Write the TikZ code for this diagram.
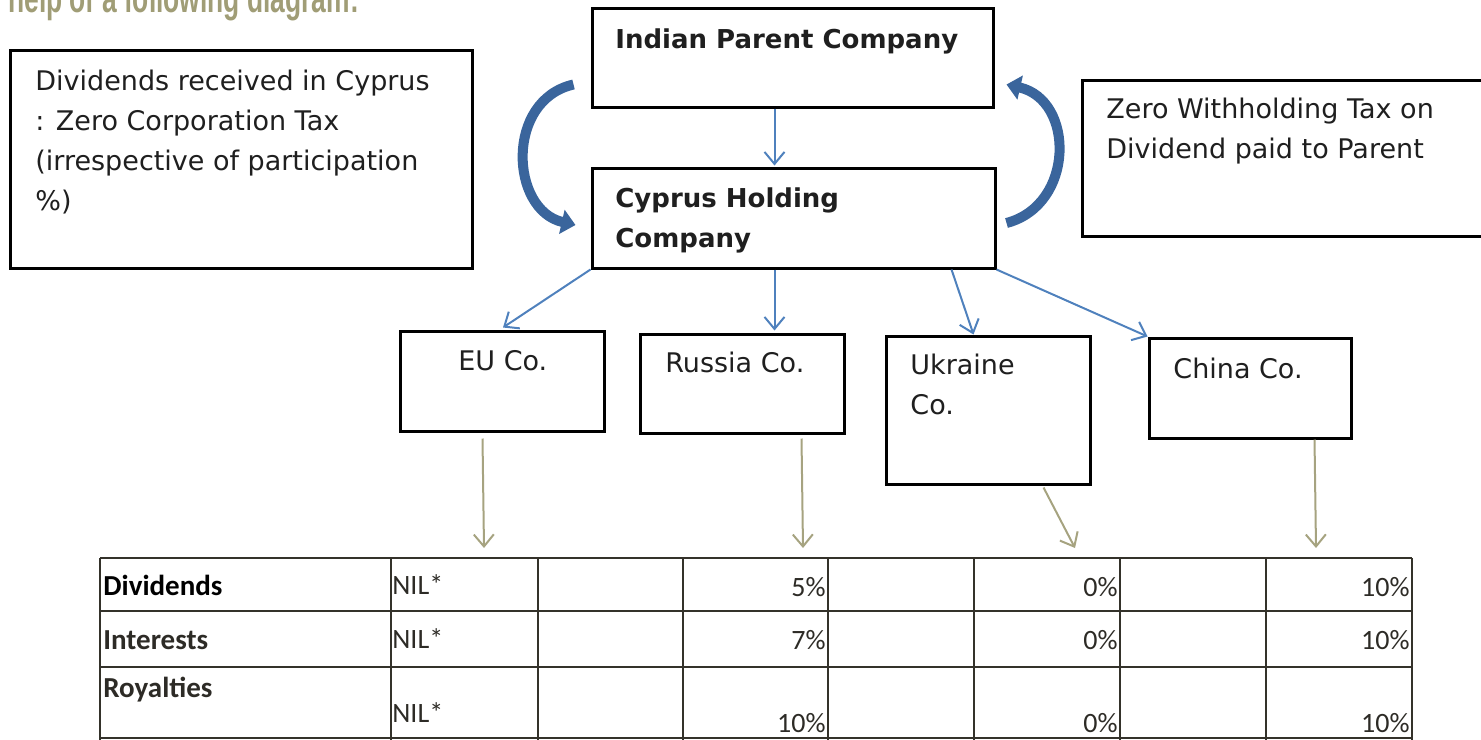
\documentclass[tikz,border=0pt]{standalone}
\usepackage{fontspec}
\setmainfont{DejaVu Sans}
\newfontfamily\tabfont{Carlito}
\newfontfamily\headfont{Liberation Sans}
\usetikzlibrary{arrows.meta}
\usetikzlibrary{fit}
\usetikzlibrary{calc}

\definecolor{linkblue}{RGB}{79,129,189}
\definecolor{curveblue}{RGB}{58,101,156}
\definecolor{feedolive}{RGB}{166,163,128}
\definecolor{headolive}{RGB}{160,157,118}
\definecolor{gridline}{RGB}{52,50,42}
\definecolor{tabtext}{RGB}{45,43,38}

\tikzset{
  box/.style={draw=black, line width=1.5pt, inner sep=0pt},
  plaintxt/.style={anchor=base west, inner sep=0pt, text=black!88, font=\fontsize{13.5}{20}\selectfont},
  boldtxt/.style={plaintxt, font=\fontsize{13}{20}\selectfont\bfseries},
  link/.style={draw=linkblue, line width=1pt, -{Straight Barb[length=6pt,width=10pt]}},
  feed/.style={draw=feedolive, line width=1pt, -{Straight Barb[length=6pt,width=10pt]}},
  swing/.style={draw=curveblue, line width=5pt, -{Triangle[length=7pt,width=12pt]}},
  gridrule/.style={draw=gridline, line width=1.25pt},
  rowhead/.style={anchor=base west, inner sep=0pt, text=tabtext, font=\tabfont\fontsize{14.5}{16}\selectfont\bfseries},
  cellval/.style={anchor=base east, inner sep=0pt, text=tabtext, font=\tabfont\fontsize{14}{16}\selectfont},
  nilval/.style={cellval, anchor=base west}
}

\begin{document}
\begin{tikzpicture}[x=0.5pt,y=-0.5pt]
    \useasboundingbox (0,0) rectangle (1481,739);

    \node[anchor=base west, inner sep=0pt, text=headolive, xscale=0.66, transform shape,
          font=\headfont\fontsize{20}{22}\selectfont\bfseries] (head) at (8,12) {help of a following diagram:};

    \node[box, fit={(592,8) (993,107)}] (parent) {};
    \node[box, fit={(592,168) (995,268)}] (holding) {};
    \node[box, fit={(10,50) (472,268)}] (cyprusnote) {};
    \node[box, fit={(1082,80) (1495,236)}] (whtnote) {};
    \node[box, fit={(400,331) (604,431)}] (eu) {};
    \node[box, fit={(640,334) (844,433)}] (russia) {};
    \node[box, fit={(886,336) (1090,484)}] (ukraine) {};
    \node[box, fit={(1149,338) (1351,438)}] (china) {};

    % multi-line texts sit on the baseline of their last line
    \node[boldtxt] (parenttxt) at (615,48) {Indian Parent Company};
    \node[boldtxt, align=left] (holdingtxt) at (615,247) {Cyprus Holding\\Company};
    \node[plaintxt, align=left] (cyprustxt) at (35,210) {Dividends received in Cyprus\\: Zero Corporation Tax\\(irrespective of participation\\\%)};
    \node[plaintxt, align=left] (whttxt) at (1106,158) {Zero Withholding Tax on\\Dividend paid to Parent};
    \node[plaintxt] (eutxt) at (458,370) {EU Co.};
    \node[plaintxt] (russiatxt) at (665,372) {Russia Co.};
    \node[plaintxt, align=left] (ukrainetxt) at (910,414) {Ukraine\\Co.};
    \node[plaintxt] (chinatxt) at (1173,378) {China Co.};

    \draw[swing] ($(parent.south west)+(-17,-24)$) .. controls (505,100) and (510,210) .. ($(holding.west)+(-15,7)$);
    \draw[swing] ($(holding.east)+(10,5)$) .. controls (1075,205) and (1075,100) .. ($(parent.south east)+(12,-24)$);

    \draw[link] ($(parent.south west)+(184,0)$) -- ($(holding.north west)+(184,-1)$);
    \draw[link] (holding.south west) -- ($(eu.north)+(1,-2)$);
    \draw[link] ($(holding.south west)+(184,0)$) -- ($(russia.north west)+(136,-2)$);
    \draw[link] ($(holding.south west)+(361,0)$) -- ($(ukraine.north west)+(89,0)$);
    \draw[link] (holding.south east) -- (china.north west);

    \coordinate (eutab) at (484,548);
    \coordinate (russiatab) at (803,548);
    \coordinate (ukrainetab) at (1075,548);
    \coordinate (chinatab) at (1316,548);
    \draw[feed] ($(eu.south west)+(84,6)$) -- (eutab);
    \draw[feed] ($(russia.south west)+(163,4)$) -- (russiatab);
    \draw[feed] ($(ukraine.south west)+(159,2)$) -- (ukrainetab);
    \draw[feed] ($(china.south west)+(167,0)$) -- (chinatab);

    \foreach \y in {558,611,667,738}
        \draw[gridrule] (100,\y) -- (1412,\y);
    \foreach \x in {100,391,538,683,828,974,1120,1266,1412}
        \draw[gridrule] (\x,558) -- (\x,745);

    \node[rowhead, text=black] (divhead) at (103,595) {Dividends};
    \node[rowhead] (inthead) at (103,649) {Interests};
    \node[rowhead] (royhead) at (103,697) {Royalties};
    \node[nilval] (divnil) at (392,594) {NIL*};
    \node[nilval] (intnil) at (392,648) {NIL*};
    \node[nilval] (roynil) at (392,722) {NIL*};

    \foreach \x/\v [count=\i] in {826/5\%,1118/0\%,1410/10\%}
        \node[cellval] (div\i) at (\x,596) {\v};
    \foreach \x/\v [count=\i] in {826/7\%,1118/0\%,1410/10\%}
        \node[cellval] (int\i) at (\x,649) {\v};
    \foreach \x/\v [count=\i] in {826/10\%,1118/0\%,1410/10\%}
        \node[cellval] (roy\i) at (\x,732) {\v};

\end{tikzpicture}
\end{document}
